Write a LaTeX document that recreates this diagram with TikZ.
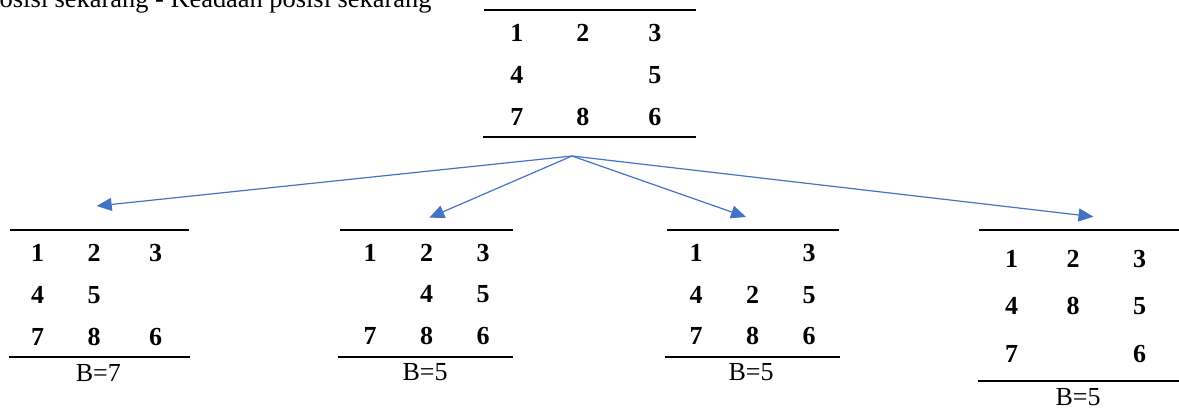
\documentclass[tikz,border=0pt]{standalone}
\usepackage{fontspec}
\setmainfont{Liberation Serif}
\usepackage{xcolor}
\usetikzlibrary{arrows.meta,matrix}
\definecolor{arrblue}{HTML}{4472C4}

\begin{document}
\begin{tikzpicture}[
  x=1pt, y=-1pt,
  board/.style={matrix of nodes, inner sep=0pt, column sep=36.5pt, row sep=23.65pt,
    nodes={font=\fontsize{26}{31}\selectfont\bfseries, inner sep=0pt,
           minimum width=20pt, text height=18pt, text depth=0pt, anchor=base}},
  rule/.style={line width=1.6pt},
  score/.style={font=\fontsize{26}{31}\selectfont, inner sep=0pt, anchor=base},
  arr/.style={-{Triangle[length=15pt,width=13pt]}, line width=1.2pt, draw=arrblue}
]
\useasboundingbox (0,0) rectangle (1179,410);

\node[font=\fontsize{26.4}{31}\selectfont, inner sep=0pt, anchor=base west] (caption) at (-0.5,7.3)
  {osisi sekarang - Keadaan posisi sekarang};

\matrix (start) [board, column sep=46pt] at (585.85,74.35) {
  1 & 2 &[6pt] 3 \\
  4 &   & 5 \\
  7 & 8 & 6 \\
};
\draw[rule] (484,10) -- (696,10);
\draw[rule] (483,137) -- (696,137);

\matrix (left) [board] at (96.6,294.35) {
  1 & 2 &[5pt] 3 \\
  4 & 5 & \\
  7 & 8 & 6 \\
};
\draw[rule] (10,230) -- (189,230);
\draw[rule] (9,357) -- (190,357);
\node[score] (bleft) at (98.3,381.7) {B=7};

\matrix (up) [board] at (426.65,293.85) {
  1 & 2 & 3 \\
    & 4 & 5 \\
  7 & 8 & 6 \\
};
\draw[rule] (340,230) -- (513,230);
\draw[rule] (338,357) -- (513,357);
\node[score] (bup) at (425,380) {B=5};

\matrix (right) [board] at (752.5,294) {
  1 &   & 3 \\
  4 & 2 & 5 \\
  7 & 8 & 6 \\
};
\draw[rule] (667,230) -- (839,230);
\draw[rule] (665,357) -- (840,357);
\node[score] (bright) at (751,380) {B=5};

\matrix (down) [board, column sep=41.3pt, row sep=29.5pt] at (1075.7,305.5) {
  1 & 2 &[5.4pt] 3 \\
  4 & 8 & 5 \\
  7 &   & 6 \\
};
\draw[rule] (979,230) -- (1179,230);
\draw[rule] (978,381) -- (1179,381);
\node[score] (bdown) at (1078,405) {B=5};

\coordinate (apex) at (572,156);
\coordinate (toleft) at (96.7,206);
\coordinate (toup) at (429.3,217.7);
\coordinate (toright) at (746,217);
\coordinate (todown) at (1093.5,216.7);

\draw[arr] (apex) -- (toleft);
\draw[arr] (apex) -- (toup);
\draw[arr] (apex) -- (toright);
\draw[arr] (apex) -- (todown);
\end{tikzpicture}
\end{document}
